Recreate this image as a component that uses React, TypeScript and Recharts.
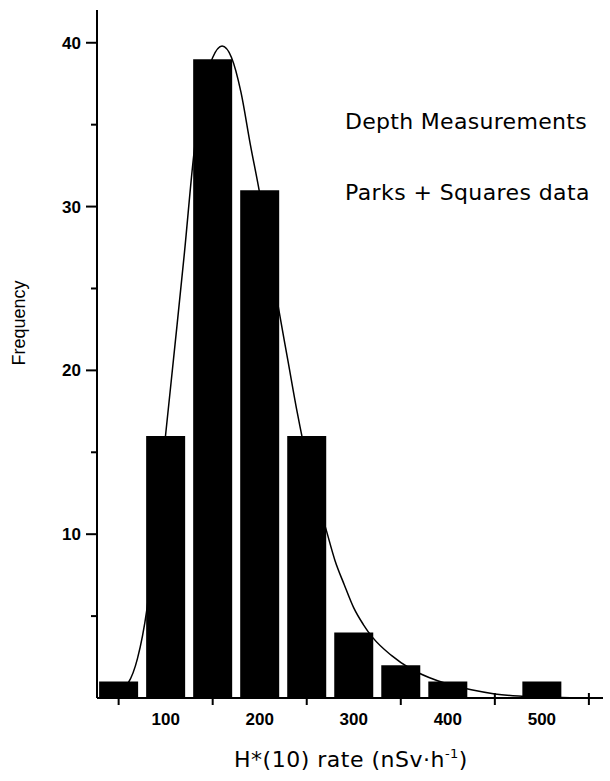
import { Bar, ComposedChart, Line, XAxis, YAxis } from 'recharts';

// histogram of H*(10) dose rates, bins 50 nSv/h wide
const binCenters = [50, 100, 150, 200, 250, 300, 350, 400, 450, 500];
const frequencies = [1, 16, 39, 31, 16, 4, 2, 1, 0, 1];

// fitted curve
const fitRates = [30, 40, 50, 60, 70, 80, 90, 100, 110, 120, 130, 140, 150, 160, 170, 180, 190, 200, 210, 220, 230, 240, 250, 260, 270, 280, 290, 300, 310, 320, 340, 360, 380, 400, 425, 450, 475, 500, 530];
const fitFreq = [0.05, 0.2, 0.45, 0.9, 2.4, 5.4, 10.5, 16.1, 21.6, 27.2, 33.2, 37.2, 39.1, 39.8, 39.1, 37.0, 33.8, 30.8, 27.3, 23.8, 20.6, 17.4, 14.6, 12.3, 10.4, 8.4, 6.9, 5.5, 4.5, 3.7, 2.6, 1.8, 1.25, 0.85, 0.5, 0.25, 0.12, 0.06, 0.02];

const xLabelTicks = [100, 200, 300, 400, 500];
const xMinorTicks = [50, 150, 250, 350, 450, 550];
const yLabelTicks = [10, 20, 30, 40];
const yMinorTicks = [5, 15, 25, 35];

const bars = binCenters.map((rate, i) => ({ rate, freq: frequencies[i] }));
const fit = fitRates.map((rate, i) => ({ rate, fit: fitFreq[i] }));

const FONT = '"Liberation Sans", Arial, Helvetica, sans-serif';
const WIDE = '"DejaVu Sans", sans-serif';
const PLOT_LEFT = 97;
const PLOT_BOTTOM = 698;

function XTick({ x, payload }: any) {
  const v = payload.value;
  if (xLabelTicks.includes(v)) {
    return (
      <text x={x} y={725} textAnchor="middle" fontSize={17} fontWeight="bold" fontFamily={FONT} fill="#000">
        {v}
      </text>
    );
  }
  return <line x1={x} x2={x} y1={PLOT_BOTTOM - 5} y2={PLOT_BOTTOM + 7} stroke="#000" strokeWidth={2} />;
}

function YTick({ y, payload }: any) {
  const v = payload.value;
  const major = yLabelTicks.includes(v);
  return (
    <g>
      <line x1={PLOT_LEFT - (major ? 11 : 6)} x2={PLOT_LEFT} y1={y} y2={y} stroke="#000" strokeWidth={2} />
      {major && (
        <text x={PLOT_LEFT - 16} y={y} dy={6} textAnchor="end" fontSize={17} fontWeight="bold" fontFamily={FONT} fill="#000">
          {v}
        </text>
      )}
    </g>
  );
}

export default function App() {
  return (
    <div style={{ position: 'absolute', left: 0, top: 0, background: '#fff' }}>
      <ComposedChart width={610} height={781} data={bars} margin={{ top: 10, right: 7, bottom: 0, left: 0 }}>
        <XAxis
          dataKey="rate"
          type="number"
          domain={[27, 565]}
          allowDataOverflow
          ticks={[...xMinorTicks, ...xLabelTicks].sort((a, b) => a - b)}
          tick={<XTick />}
          tickLine={false}
          axisLine={{ stroke: '#000', strokeWidth: 2 }}
          height={83}
        />
        <XAxis xAxisId="fit" dataKey="rate" type="number" domain={[27, 565]} allowDataOverflow hide />
        <YAxis
          type="number"
          domain={[0, 42]}
          allowDataOverflow
          ticks={[...yMinorTicks, ...yLabelTicks].sort((a, b) => a - b)}
          tick={<YTick />}
          tickLine={false}
          axisLine={{ stroke: '#000', strokeWidth: 2 }}
          width={97}
        />
        <Bar dataKey="freq" fill="#000" barSize={39} isAnimationActive={false} />
        <Line
          xAxisId="fit"
          data={fit}
          dataKey="fit"
          type="monotone"
          stroke="#000"
          strokeWidth={1.5}
          dot={false}
          activeDot={false}
          isAnimationActive={false}
        />
        <text x={345} y={129} fontSize={22} letterSpacing={0.3} fontFamily={WIDE} fill="#000">
          Depth Measurements
        </text>
        <text x={345} y={200} fontSize={22} letterSpacing={0.4} fontFamily={WIDE} fill="#000">
          Parks + Squares data
        </text>
        <text x={25} y={323} transform="rotate(-90, 25, 323)" textAnchor="middle" fontSize={18} fontFamily={FONT} fill="#000">
          Frequency
        </text>
        <text x={351} y={767} textAnchor="middle" fontSize={22} letterSpacing={0.5} fontFamily={WIDE} fill="#000">
          H*(10) rate (nSv·h<tspan dy={-9} fontSize={13}>-1</tspan>
          <tspan dy={9}>)</tspan>
        </text>
      </ComposedChart>
    </div>
  );
}
